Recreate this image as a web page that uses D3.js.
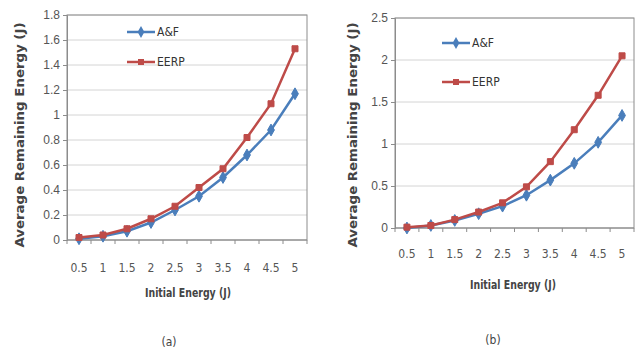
<!DOCTYPE html>
<html>
<head>
<meta charset="utf-8">
<script src="https://cdn.jsdelivr.net/npm/d3@7"></script>
<style>
  body { margin: 0; background: #fff; }
  svg { font-family: "Liberation Sans Narrow", "DejaVu Sans Condensed", "Liberation Sans", sans-serif; }
</style>
</head>
<body>
<svg id="chart" width="640" height="352"></svg>
<script>
// categories shared by both panels
const initialEnergy = ['0.5', '1', '1.5', '2', '2.5', '3', '3.5', '4', '4.5', '5'];

// panel (a)
const afA = [0.01, 0.03, 0.07, 0.14, 0.24, 0.35, 0.50, 0.68, 0.88, 1.17];
const eerpA = [0.02, 0.04, 0.09, 0.17, 0.27, 0.42, 0.57, 0.82, 1.09, 1.53];
const yTicksA = [0, 0.2, 0.4, 0.6, 0.8, 1, 1.2, 1.4, 1.6, 1.8];

// panel (b)
const afB = [0.00, 0.03, 0.09, 0.17, 0.26, 0.39, 0.57, 0.77, 1.02, 1.34];
const eerpB = [0.01, 0.03, 0.10, 0.19, 0.30, 0.49, 0.79, 1.17, 1.58, 2.05];
const yTicksB = [0, 0.5, 1, 1.5, 2, 2.5];

const seriesNames = ['A&F', 'EERP'];
const blue = '#4a7ebb';
const red = '#be4b48';

const svg = d3.select('#chart');

function drawPanel(cfg) {
  const g = svg.append('g');
  const x = d3.scalePoint().domain(initialEnergy).range([cfg.left, cfg.right]).padding(0.5);
  const y = d3.scaleLinear().domain([0, cfg.yMax]).range([cfg.bottom, cfg.top]);

  // gridlines
  g.selectAll('line.grid')
    .data(cfg.yTicks.slice(1))
    .enter().append('line')
    .attr('x1', cfg.left).attr('x2', cfg.right)
    .attr('y1', d => y(d)).attr('y2', d => y(d))
    .attr('stroke', '#d4d4d4').attr('stroke-width', 1);

  // plot border
  g.append('rect')
    .attr('x', cfg.left).attr('y', cfg.top)
    .attr('width', cfg.right - cfg.left).attr('height', cfg.bottom - cfg.top)
    .attr('fill', 'none').attr('stroke', '#8c8c8c').attr('stroke-width', 1);

  // y axis
  const yAxis = d3.axisLeft(y).tickValues(cfg.yTicks).tickSize(4).tickFormat(d => String(d));
  const ya = g.append('g').attr('transform', `translate(${cfg.left},0)`).call(yAxis);
  ya.select('.domain').attr('stroke', '#8c8c8c');
  ya.selectAll('.tick line').attr('stroke', '#8c8c8c');
  ya.selectAll('.tick text').attr('font-size', 12).attr('fill', '#555').attr('x', -7);

  // x axis, tick marks between categories
  const step = x.step();
  const xa = g.append('g').attr('transform', `translate(0,${cfg.bottom})`);
  xa.append('line').attr('x1', cfg.left).attr('x2', cfg.right).attr('stroke', '#8c8c8c');
  xa.selectAll('line.tk')
    .data(d3.range(initialEnergy.length + 1))
    .enter().append('line')
    .attr('x1', i => cfg.left + i * step).attr('x2', i => cfg.left + i * step)
    .attr('y1', 0).attr('y2', 4).attr('stroke', '#8c8c8c');
  xa.selectAll('text')
    .data(initialEnergy)
    .enter().append('text')
    .attr('x', d => x(d)).attr('y', cfg.xLabelY - cfg.bottom)
    .attr('text-anchor', 'middle').attr('font-size', 12).attr('fill', '#555')
    .text(d => d);

  // axis titles
  g.append('text')
    .attr('transform', `translate(${cfg.yTitleX},${cfg.yTitleMid}) rotate(-90)`)
    .attr('text-anchor', 'middle').attr('font-size', 13).attr('font-weight', 'bold').attr('fill', '#444')
    .attr('textLength', cfg.yTitleLen).attr('lengthAdjust', 'spacingAndGlyphs')
    .text('Average Remaining Energy (J)');
  g.append('text')
    .attr('x', cfg.xTitleX).attr('y', cfg.xTitleY)
    .attr('text-anchor', 'middle').attr('font-size', 12).attr('font-weight', 'bold').attr('fill', '#444')
    .attr('textLength', 86).attr('lengthAdjust', 'spacingAndGlyphs')
    .text('Initial Energy (J)');
  g.append('text')
    .attr('x', cfg.capX).attr('y', cfg.capY)
    .attr('text-anchor', 'middle').attr('font-size', 12).attr('fill', '#444')
    .text(cfg.caption);

  const line = d3.line().x((d, i) => x(initialEnergy[i])).y(d => y(d));
  const series = [
    { name: seriesNames[0], values: cfg.af, color: blue, marker: d3.symbolDiamond },
    { name: seriesNames[1], values: cfg.eerp, color: red, marker: d3.symbolSquare }
  ];

  series.forEach((s, k) => {
    g.append('path').datum(s.values)
      .attr('d', line).attr('fill', 'none')
      .attr('stroke', s.color).attr('stroke-width', 2.5);
    g.selectAll(null).data(s.values).enter().append('path')
      .attr('transform', (d, i) => `translate(${x(initialEnergy[i])},${y(d)})`)
      .attr('d', d3.symbol().type(s.marker).size(k === 0 ? 40 : 36))
      .attr('fill', s.color).attr('stroke', s.color);

    // legend
    const ly = cfg.legendY[k];
    g.append('line')
      .attr('x1', cfg.legendX).attr('x2', cfg.legendX + 28)
      .attr('y1', ly).attr('y2', ly)
      .attr('stroke', s.color).attr('stroke-width', 2.5);
    g.append('path')
      .attr('transform', `translate(${cfg.legendX + 14},${ly})`)
      .attr('d', d3.symbol().type(s.marker).size(k === 0 ? 40 : 36))
      .attr('fill', s.color);
    g.append('text')
      .attr('x', cfg.legendX + 30).attr('y', ly + 4)
      .attr('font-size', 12).attr('fill', '#333')
      .text(s.name);
  });
}

drawPanel({
  left: 67, right: 307, top: 15, bottom: 240, yMax: 1.8, yTicks: yTicksA,
  af: afA, eerp: eerpA, xLabelY: 272, yTitleX: 24, yTitleMid: 135, yTitleLen: 225,
  xTitleX: 188, xTitleY: 297,
  capX: 169, capY: 346, caption: '(a)', legendX: 127, legendY: [32, 62]
});

drawPanel({
  left: 395, right: 634, top: 18, bottom: 228, yMax: 2.5, yTicks: yTicksB,
  af: afB, eerp: eerpB, xLabelY: 258, yTitleX: 357, yTitleMid: 135, yTitleLen: 225,
  xTitleX: 513, xTitleY: 289,
  capX: 493, capY: 344, caption: '(b)', legendX: 442, legendY: [43, 82]
});
</script>
</body>
</html>
